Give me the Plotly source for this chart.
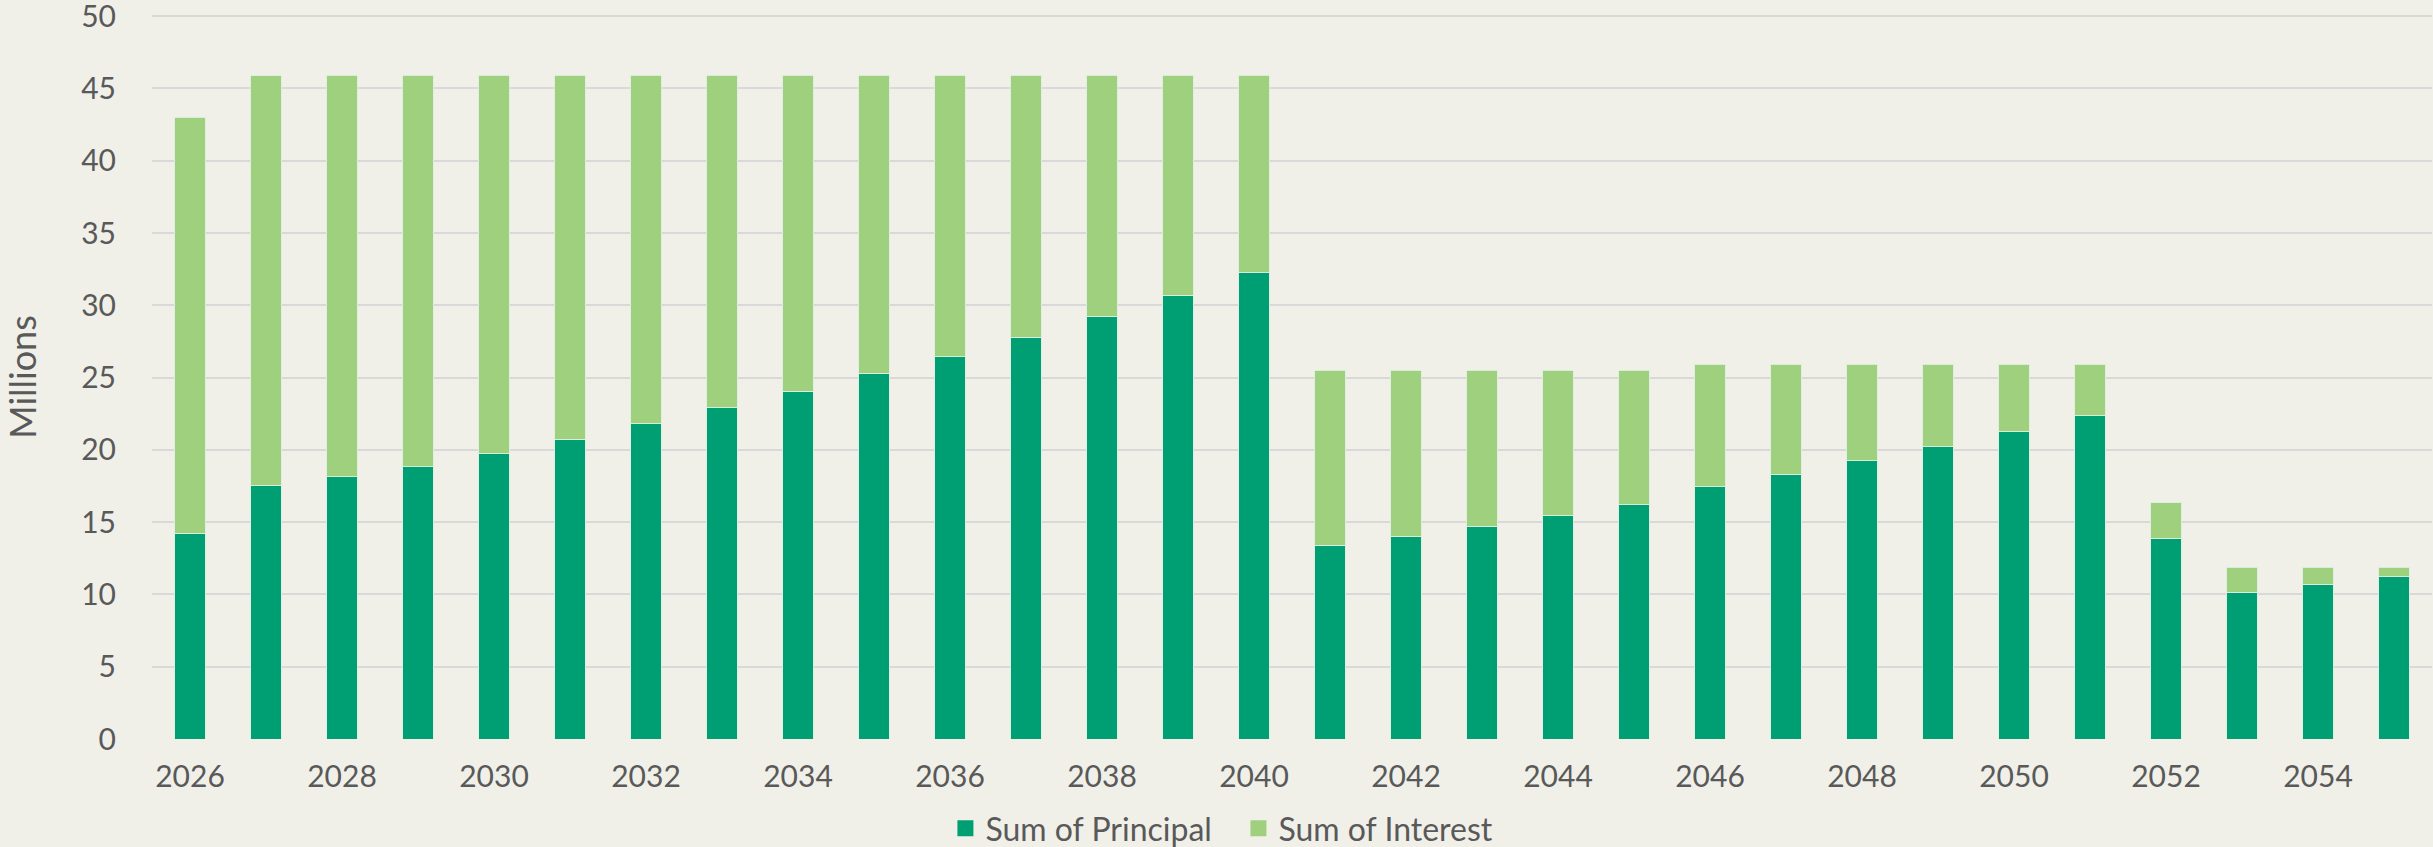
import plotly.graph_objects as go

years = list(range(2026, 2056))
principal = [14.22, 17.51, 18.13, 18.83, 19.72, 20.74, 21.82, 22.93, 24.05, 25.30,
             26.45, 27.80, 29.25, 30.70, 32.25, 13.39, 14.03, 14.72, 15.44, 16.20,
             17.44, 18.32, 19.24, 20.20, 21.24, 22.35, 13.87, 10.14, 10.69, 11.24]
interest = [28.78, 28.37, 27.77, 27.07, 26.18, 25.16, 24.08, 22.99, 21.87, 20.62,
            19.47, 18.12, 16.67, 15.22, 13.67, 12.11, 11.47, 10.78, 10.06, 9.30,
            8.49, 7.61, 6.69, 5.73, 4.69, 3.58, 2.47, 1.73, 1.18, 0.63]
series_names = ["Sum of Principal", "Sum of Interest"]
y_ticks = [0, 5, 10, 15, 20, 25, 30, 35, 40, 45, 50]

DARK = "#009E73"
LIGHT = "#9FD07E"
TEXT = "#595959"
BG = "#F0F0E9"
GRID = "#D9D9D9"
FONT = "Lato"

fig = go.Figure()
fig.add_trace(go.Bar(x=years, y=principal, name=series_names[0], marker_color=DARK,
                     marker_line=dict(color="rgba(220,240,225,0.9)", width=1), showlegend=False))
fig.add_trace(go.Bar(x=years, y=interest, name=series_names[1], marker_color=LIGHT,
                     marker_line=dict(color="rgba(220,240,225,0.9)", width=1), showlegend=False))
# legend entries with larger square swatches
for nm, col in zip(series_names, [DARK, LIGHT]):
    fig.add_trace(go.Scatter(x=[None], y=[None], mode="markers", name=nm,
                             marker=dict(symbol="square", size=17, color=col)))

fig.update_layout(
    barmode="stack",
    bargap=0.6,
    width=2433, height=847,
    margin=dict(l=152, r=1, t=15, b=108, autoexpand=False),
    paper_bgcolor=BG, plot_bgcolor=BG,
    font=dict(family=FONT, color=TEXT, size=30),
    legend=dict(orientation="h", x=0.4765, xanchor="center", y=-0.1234, yanchor="middle",
                traceorder="normal", entrywidth=248, entrywidthmode="pixels",
                font=dict(size=32, color=TEXT, family=FONT), itemsizing="trace",
                bgcolor="rgba(0,0,0,0)"),
    xaxis=dict(range=[2025.5, 2055.5], tickmode="linear", tick0=2026, dtick=2,
               showgrid=False, zeroline=False, showline=False,
               ticks="outside", ticklen=11, tickcolor="rgba(0,0,0,0)",
               tickfont=dict(size=30, color=TEXT, family=FONT)),
    yaxis=dict(range=[0, 50.08], tickvals=y_ticks, showgrid=True, gridcolor=GRID, gridwidth=2,
               zeroline=False, showline=False, ticklabeloverflow="allow",
               ticks="outside", ticklen=29, tickcolor="rgba(0,0,0,0)",
               tickfont=dict(size=30, color=TEXT, family=FONT),
               title=dict(text="Millions", font=dict(size=36, color=TEXT, family=FONT), standoff=49)),
)

fig.write_html(
    "out.html",
    config={"displayModeBar": False},
    post_script="document.body.style.margin='0';document.body.style.background='%s';" % BG,
)
